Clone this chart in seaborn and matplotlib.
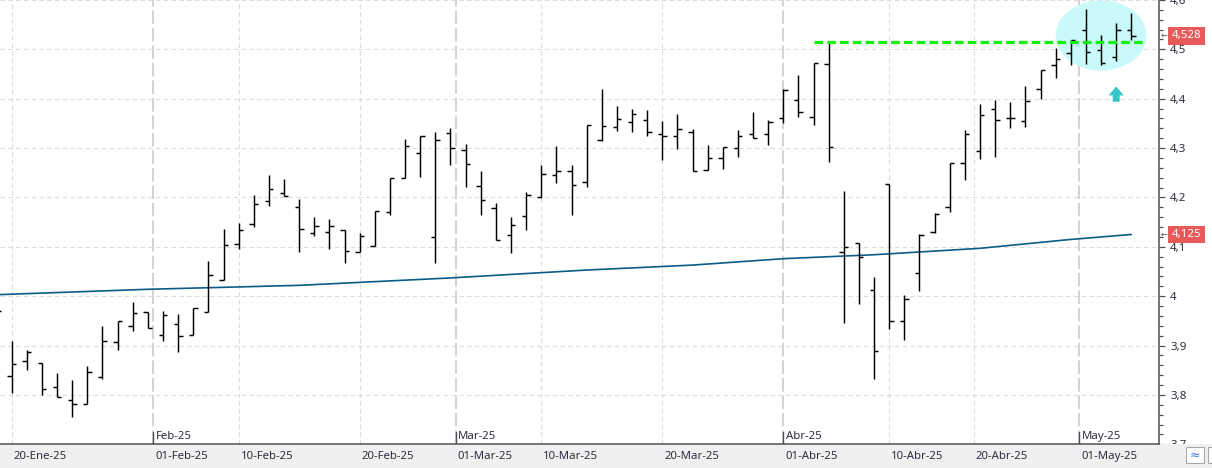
import numpy as np
import matplotlib
matplotlib.use("Agg")
import matplotlib.pyplot as plt
import seaborn as sns
from matplotlib.patches import Ellipse, Rectangle
from matplotlib.ticker import MultipleLocator, FuncFormatter

# ---------------- data ----------------
bar_index = list(range(-1, 75))
opens = [3.980, 3.839, 3.868, 3.864, 3.817, 3.789, 3.781, 3.837, 3.908, 3.939, 3.967,
         3.922, 3.943, 3.922, 3.968, 4.032, 4.105, 4.147, 4.192, 4.210, 4.180,
         4.128, 4.130, 4.134, 4.089, 4.102, 4.170, 4.239, 4.290, 4.119, 4.330,
         4.297, 4.223, 4.178, 4.123, 4.162, 4.200, 4.245, 4.254, 4.232, 4.317,
         4.342, 4.352, 4.356, 4.329, 4.325, 4.333, 4.255, 4.280, 4.300, 4.329,
         4.329, 4.360, 4.397, 4.362, 4.470, 4.089, 4.107, 4.012, 4.228, 3.949,
         4.046, 4.131, 4.180, 4.269, 4.295, 4.380, 4.360, 4.354, 4.420, 4.469,
         4.493, 4.540, 4.499, 4.485, 4.540]
highs = [3.990, 3.909, 3.891, 3.864, 3.844, 3.830, 3.858, 3.939, 3.949, 3.988, 3.967,
         3.970, 3.964, 3.977, 4.071, 4.137, 4.149, 4.204, 4.245, 4.237, 4.196,
         4.160, 4.157, 4.134, 4.128, 4.173, 4.239, 4.318, 4.325, 4.333, 4.341,
         4.308, 4.253, 4.188, 4.160, 4.212, 4.265, 4.305, 4.265, 4.347, 4.419,
         4.385, 4.379, 4.377, 4.355, 4.369, 4.338, 4.306, 4.302, 4.336, 4.373,
         4.356, 4.419, 4.449, 4.472, 4.512, 4.214, 4.107, 4.038, 4.228, 4.002,
         4.125, 4.169, 4.269, 4.336, 4.390, 4.397, 4.393, 4.425, 4.459, 4.503,
         4.518, 4.581, 4.529, 4.554, 4.574]
lows = [3.950, 3.804, 3.850, 3.800, 3.796, 3.755, 3.781, 3.833, 3.891, 3.930, 3.935,
        3.910, 3.887, 3.922, 3.968, 4.032, 4.096, 4.140, 4.182, 4.203, 4.090,
        4.122, 4.096, 4.068, 4.089, 4.102, 4.165, 4.239, 4.242, 4.068, 4.266,
        4.221, 4.164, 4.113, 4.088, 4.134, 4.199, 4.230, 4.165, 4.222, 4.315,
        4.334, 4.333, 4.324, 4.276, 4.299, 4.253, 4.255, 4.257, 4.281, 4.320,
        4.307, 4.351, 4.364, 4.347, 4.272, 3.946, 3.984, 3.833, 3.933, 3.912,
        4.011, 4.129, 4.171, 4.235, 4.277, 4.282, 4.341, 4.343, 4.400, 4.442,
        4.469, 4.471, 4.469, 4.477, 4.519]
closes = [3.970, 3.862, 3.887, 3.813, 3.796, 3.781, 3.846, 3.910, 3.949, 3.965, 3.935,
          3.961, 3.919, 3.977, 4.042, 4.103, 4.135, 4.186, 4.217, 4.203, 4.137,
          4.143, 4.143, 4.091, 4.121, 4.173, 4.239, 4.305, 4.325, 4.317, 4.300,
          4.267, 4.194, 4.113, 4.144, 4.206, 4.247, 4.254, 4.225, 4.347, 4.344,
          4.358, 4.369, 4.332, 4.324, 4.339, 4.253, 4.280, 4.302, 4.324, 4.320,
          4.352, 4.417, 4.373, 4.472, 4.302, 4.100, 4.080, 3.888, 3.949, 3.995,
          4.123, 4.166, 4.269, 4.329, 4.368, 4.356, 4.360, 4.396, 4.459, 4.481,
          4.518, 4.495, 4.473, 4.540, 4.528]

ma_index = [-1, 9, 19, 29, 38, 45, 51, 57, 64, 70, 74]
ma_values = [4.003, 4.014, 4.022, 4.037, 4.053, 4.063, 4.076, 4.084, 4.097, 4.115, 4.125]

date_tick_pos = [0, 9.36, 15, 23, 29.35, 35, 43, 51, 58, 63.6, 70.56]
date_tick_labels = ["20-Ene-25", "01-Feb-25", "10-Feb-25", "20-Feb-25", "01-Mar-25",
                    "10-Mar-25", "20-Mar-25", "01-Abr-25", "10-Abr-25", "20-Abr-25",
                    "01-May-25"]
month_pos = [9.36, 29.35, 51, 70.56]
month_labels = ["Feb-25", "Mar-25", "Abr-25", "May-25"]

resistance_level = 4.514
resistance_range = [53, 75]
last_close = 4.528
ma_last = 4.125
highlight_center = [72.0, 4.528]
highlight_size = [6.0, 0.142]
arrow_x = 73.0
arrow_range = [4.394, 4.425]

# ---------------- style ----------------
sns.set_style("white")
plt.rcParams['font.family'] = ['Noto Sans', 'DejaVu Sans']
TXT = '#2e2e3e'
AXC = '#505050'

W, H = 1212, 468
fig = plt.figure(figsize=(W / 100, H / 100), dpi=100)
fig.patch.set_facecolor('white')
ax_bottom_px = 444.3
ax_right_px = 1159.3
ax = fig.add_axes([0, (H - ax_bottom_px) / H, ax_right_px / W, ax_bottom_px / H])
ax.set_facecolor('white')

ax.set_xlim(-0.773, 75.85)
ax.set_ylim(3.7, 4.6)

# grid lines
ax.yaxis.set_major_locator(MultipleLocator(0.1))
ax.yaxis.set_minor_locator(MultipleLocator(0.02))
ax.yaxis.grid(True, which='major', color='#dcdcdc', linestyle=(0, (4, 3)), lw=0.8, zorder=0)
ax.xaxis.grid(False)
for p in date_tick_pos:
    if p in month_pos:
        ax.axvline(p, color='#d2d2d2', linestyle=(0, (7, 2)), lw=1.4, zorder=0.6)
        ax.axvline(p, ymin=0, ymax=12.6 / ax_bottom_px, color=AXC, lw=1.0, zorder=0.7)
    else:
        ax.axvline(p, color='#dcdcdc', linestyle=(0, (4, 3)), lw=0.8, zorder=0.5)

# highlight ellipse
ax.add_patch(Ellipse(tuple(highlight_center), highlight_size[0], highlight_size[1],
                     fc='#c9f9f9', ec='none', zorder=1))

# moving average
sns.lineplot(x=ma_index, y=ma_values, ax=ax, color='#0b5c87', lw=1.2, zorder=3)

# OHLC bars
x = np.array(bar_index, dtype=float)
tw = 0.29
ax.vlines(x, lows, highs, color='black', lw=1.05, zorder=5)
ax.hlines(opens, x - tw, x, color='black', lw=1.05, zorder=5)
ax.hlines(closes, x, x + tw, color='black', lw=1.05, zorder=5)

# resistance line
ax.hlines(resistance_level, resistance_range[0], resistance_range[1], color='#11f011',
          lw=2.3, linestyle=(0, (2.7, 1.3)), zorder=6)

# up arrow
ax.annotate('', xy=(arrow_x, arrow_range[1]), xytext=(arrow_x, arrow_range[0]),
            arrowprops=dict(arrowstyle='simple,head_length=0.65,head_width=1.08,tail_width=0.5',
                            fc='#37c6c6', ec='none', shrinkA=0, shrinkB=0), zorder=6)

# axes spines / ticks
for s in ['top', 'left']:
    ax.spines[s].set_visible(False)
for s in ['right', 'bottom']:
    ax.spines[s].set_color(AXC)
    ax.spines[s].set_linewidth(1.1)
    ax.spines[s].set_zorder(4)
ax.yaxis.tick_right()
ax.yaxis.set_major_formatter(FuncFormatter(
    lambda v, _: str(int(round(v))) if abs(v - round(v)) < 1e-9 else f"{v:.1f}".replace('.', ',')))
ax.tick_params(axis='y', which='major', direction='out', length=4.3, width=0.9, color=AXC,
               labelsize=8.3, labelcolor=TXT, pad=3.6, right=True, left=False)
ax.tick_params(axis='y', which='minor', direction='out', length=2.9, width=0.9, color=AXC,
               right=True, left=False)
ax.set_xticks(date_tick_pos)
ax.set_xticklabels([])
ax.tick_params(axis='x', direction='out', length=6.5, width=0.9, color=AXC)
ax.xaxis.set_zorder(4)
ax.set_xlabel('')
ax.set_ylabel('')

# bottom strip
ax.add_patch(Rectangle((0, 0), 1, (H - ax_bottom_px) / H, transform=fig.transFigure,
                       fc='#f0f0f0', ec='none', zorder=3, clip_on=False))
ax.add_patch(Rectangle((1186 / W, 5 / H), 18 / W, 16 / H, transform=fig.transFigure,
                       fc='white', ec='#a8a8a8', lw=0.8, zorder=3.5, clip_on=False))
ax.add_patch(Rectangle((1208 / W, 5 / H), 18 / W, 16 / H, transform=fig.transFigure,
                       fc='white', ec='#a8a8a8', lw=0.8, zorder=3.5, clip_on=False))
ax.text(1195 / W, 13 / H, '≈', transform=fig.transFigure, ha='center', va='center',
        fontsize=9, color='#3a7bd5', zorder=3.6, clip_on=False)

# date labels
for p, lab in zip(date_tick_pos, date_tick_labels):
    ax.annotate(lab, xy=(p, 0), xycoords=('data', 'axes fraction'), xytext=(1.4, -12.4 * 0.72),
                textcoords='offset points', ha='left', va='center', fontsize=8.2, color=TXT,
                zorder=6, annotation_clip=False)
for p, lab in zip(month_pos, month_labels):
    ax.annotate(lab, xy=(p, 0), xycoords=('data', 'axes fraction'), xytext=(1.6, 8 * 0.72),
                textcoords='offset points', ha='left', va='center', fontsize=8.2, color=TXT,
                zorder=6, annotation_clip=False)

# price labels on the right axis
for val in [last_close, ma_last]:
    lab = f"{val:.3f}".replace('.', ',')
    ax.annotate(lab, xy=(1, val), xycoords=('axes fraction', 'data'), xytext=(9.0, 0),
                textcoords='offset points', ha='left', va='center', fontsize=8.3, color='white',
                bbox=dict(boxstyle='square,pad=0.3', fc='#e85a5a', ec='none'),
                zorder=7, annotation_clip=False)
    ax.annotate('←', xy=(1, val), xycoords=('axes fraction', 'data'), xytext=(1.0, 0),
                textcoords='offset points', ha='left', va='center', fontsize=6, color='#555555',
                zorder=7, annotation_clip=False)

fig.savefig('out.png', dpi=100)
